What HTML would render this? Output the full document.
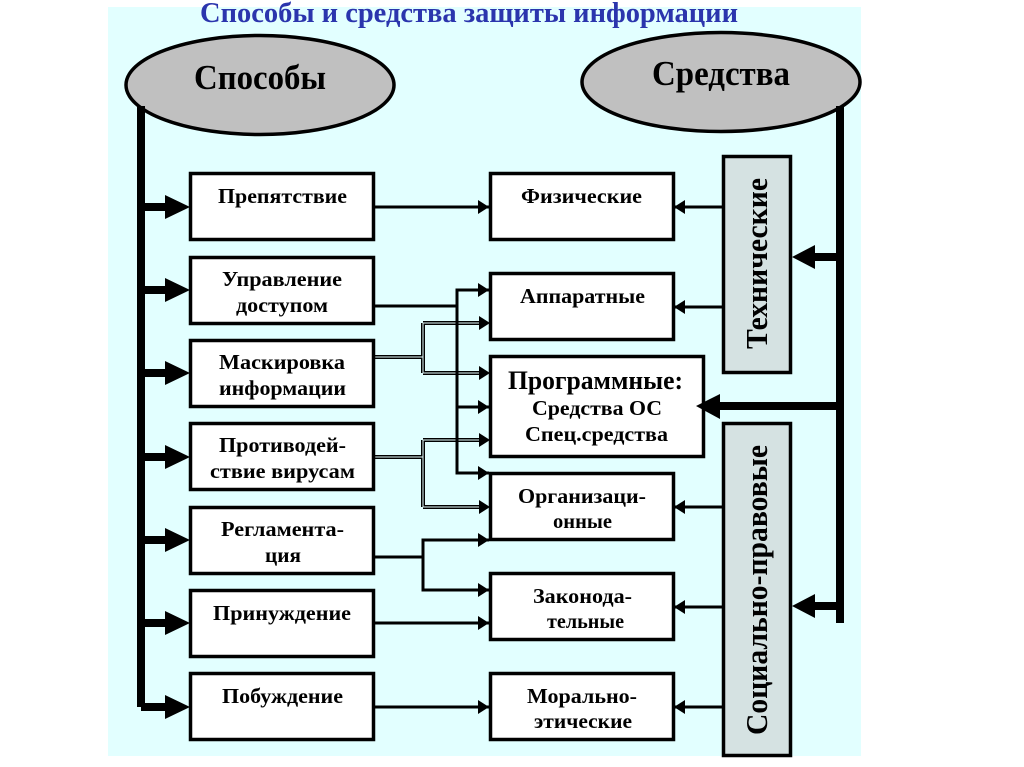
<!DOCTYPE html>
<html><head><meta charset="utf-8">
<style>html,body{margin:0;padding:0;background:#fff}svg{display:block}
text{font-family:"Liberation Serif","Noto Serif CJK SC",serif;font-weight:bold;fill:#000;text-anchor:middle}
.s{font-size:21px}</style></head>
<body>
<svg width="1024" height="767" viewBox="0 0 1024 767" xmlns="http://www.w3.org/2000/svg">
<defs>
<marker id="a" markerUnits="userSpaceOnUse" markerWidth="12" markerHeight="14" refX="11" refY="7" orient="auto"><path d="M0 0L11 7L0 14Z" fill="#000"/></marker>
</defs>
<rect width="1024" height="767" fill="#fff"/>
<rect x="108" y="7" width="753" height="749" fill="#e2ffff"/>
<text x="469" y="22" font-size="29" style="fill:#2b35ad" textLength="538" lengthAdjust="spacingAndGlyphs">Способы и средства защиты информации</text>

<ellipse cx="260" cy="85" rx="134" ry="49.5" fill="#c0c0c0" stroke="#000" stroke-width="3.5"/>
<ellipse cx="721" cy="82" rx="139" ry="49.5" fill="#c0c0c0" stroke="#000" stroke-width="3.5"/>
<text x="260" y="89" font-size="35" textLength="132" lengthAdjust="spacingAndGlyphs">Способы</text>
<text x="721" y="85" font-size="35" textLength="138" lengthAdjust="spacingAndGlyphs">Средства</text>

<!-- thick trunks -->
<rect x="137" y="106" width="8" height="601" fill="#000"/>
<rect x="836" y="106" width="8" height="517" fill="#000"/>
<g fill="#000">
<path d="M145 203H165V195L190 207L165 219V211H145Z"/>
<path d="M145 286H165V278L190 290L165 302V294H145Z"/>
<path d="M145 369H165V361L190 373L165 385V377H145Z"/>
<path d="M145 453H165V445L190 457L165 469V461H145Z"/>
<path d="M145 536H165V528L190 540L165 552V544H145Z"/>
<path d="M145 619H165V611L190 623L165 635V627H145Z"/>
<path d="M141 703H165V695L190 707L165 719V711H141Z"/>
</g>

<!-- double lines -->
<g fill="none">
<g stroke="#000" stroke-width="4">
<path d="M374 357H423M423 323V373M423 323H481M423 373H481"/>
<path d="M374 457H423M423 440V507M423 440H481M423 507H481"/>
</g>
<g stroke="#e8ffff" stroke-width="1">
<path d="M374 357H423M423 323V373M423 323H481M423 373H481"/>
<path d="M374 457H423M423 440V507M423 440H481M423 507H481"/>
</g>
</g>
<g fill="#000">
<path d="M479 316L490 323L479 330Z"/><path d="M479 366L490 373L479 380Z"/>
<path d="M479 433L490 440L479 447Z"/><path d="M479 500L490 507L479 514Z"/>
</g>
<!-- connectors -->
<g fill="none" stroke="#000" stroke-width="3">
<path d="M374 207H489" marker-end="url(#a)"/>
<path d="M374 306H457V290H489" marker-end="url(#a)"/>
<path d="M457 306V473H489" marker-end="url(#a)"/>
<path d="M457 407H489" marker-end="url(#a)"/>
<path d="M374 557H423V540H489" marker-end="url(#a)"/>
<path d="M423 557V590H489" marker-end="url(#a)"/>
<path d="M374 623H489" marker-end="url(#a)"/>
<path d="M374 707H489" marker-end="url(#a)"/>
<path d="M723 207H674" marker-end="url(#a)"/>
<path d="M723 307H674" marker-end="url(#a)"/>
<path d="M723 507H674" marker-end="url(#a)"/>
<path d="M723 607H674" marker-end="url(#a)"/>
<path d="M723 707H674" marker-end="url(#a)"/>
</g>

<!-- boxes -->
<g fill="#fff" stroke="#000" stroke-width="3.500">
<rect x="190.500" y="173.500" width="183" height="66"/>
<rect x="190.500" y="257.500" width="183" height="66"/>
<rect x="190.500" y="340.500" width="183" height="66"/>
<rect x="190.500" y="423.500" width="183" height="66"/>
<rect x="190.500" y="507.500" width="183" height="66"/>
<rect x="190.500" y="590.500" width="183" height="66"/>
<rect x="190.500" y="673.500" width="183" height="66"/>
<rect x="490.500" y="173.500" width="183" height="66"/>
<rect x="490.500" y="273.500" width="183" height="66"/>
<rect x="490.500" y="356.500" width="213" height="100"/>
<rect x="490.500" y="473.500" width="183" height="66"/>
<rect x="490.500" y="573.500" width="183" height="66"/>
<rect x="490.500" y="673.500" width="183" height="66"/>
<rect x="723.500" y="156.500" width="67" height="216" fill="#d5e2e2"/>
<rect x="723.500" y="423.500" width="67" height="332" fill="#d5e2e2"/>
</g>
<g fill="#000">
<path d="M836 253H815V245L792 257L815 269V261H836Z"/>
<path d="M836 602H815V594L792 606L815 618V610H836Z"/>
<path d="M836 402H720V394L696 406L720 419V410H836Z"/>
</g>

<!-- labels -->
<g>
<text class="s" x="282.500" y="203" textLength="129" lengthAdjust="spacingAndGlyphs">Препятствие</text>
<text class="s" x="282" y="286" textLength="120" lengthAdjust="spacingAndGlyphs">Управление</text>
<text class="s" x="282" y="312" textLength="92" lengthAdjust="spacingAndGlyphs">доступом</text>
<text class="s" x="282" y="369" textLength="126" lengthAdjust="spacingAndGlyphs">Маскировка</text>
<text class="s" x="282.500" y="395" textLength="127" lengthAdjust="spacingAndGlyphs">информации</text>
<text class="s" x="282.500" y="452" textLength="127" lengthAdjust="spacingAndGlyphs">Противодей-</text>
<text class="s" x="282.500" y="478" textLength="145" lengthAdjust="spacingAndGlyphs">ствие вирусам</text>
<text class="s" x="282.500" y="536" textLength="123" lengthAdjust="spacingAndGlyphs">Регламента-</text>
<text class="s" x="283" y="562" textLength="36" lengthAdjust="spacingAndGlyphs">ция</text>
<text class="s" x="282" y="620" textLength="138" lengthAdjust="spacingAndGlyphs">Принуждение</text>
<text class="s" x="282.500" y="703" textLength="121" lengthAdjust="spacingAndGlyphs">Побуждение</text>
<text class="s" x="581.500" y="203" textLength="121" lengthAdjust="spacingAndGlyphs">Физические</text>
<text class="s" x="582.500" y="303" textLength="125" lengthAdjust="spacingAndGlyphs">Аппаратные</text>
<text x="595.500" y="389" font-size="26" textLength="175" lengthAdjust="spacingAndGlyphs">Программные:</text>
<text class="s" x="597" y="415" textLength="130" lengthAdjust="spacingAndGlyphs">Средства ОС</text>
<text class="s" x="596.500" y="441" textLength="143" lengthAdjust="spacingAndGlyphs">Спец.средства</text>
<text class="s" x="582" y="503" textLength="128" lengthAdjust="spacingAndGlyphs">Организаци-</text>
<text class="s" x="582.500" y="528" textLength="59" lengthAdjust="spacingAndGlyphs">онные</text>
<text class="s" x="582.500" y="603" textLength="99" lengthAdjust="spacingAndGlyphs">Законода-</text>
<text class="s" x="585.500" y="628" textLength="77" lengthAdjust="spacingAndGlyphs">тельные</text>
<text class="s" x="582" y="703" textLength="110" lengthAdjust="spacingAndGlyphs">Морально-</text>
<text class="s" x="583" y="728" textLength="98" lengthAdjust="spacingAndGlyphs">этические</text>
</g>
<text transform="translate(767 263.500) rotate(-90)" font-size="31" textLength="171" lengthAdjust="spacingAndGlyphs">Технические</text>
<text transform="translate(767 590) rotate(-90)" font-size="31" textLength="290" lengthAdjust="spacingAndGlyphs">Социально-правовые</text>
</svg>
</body></html>
